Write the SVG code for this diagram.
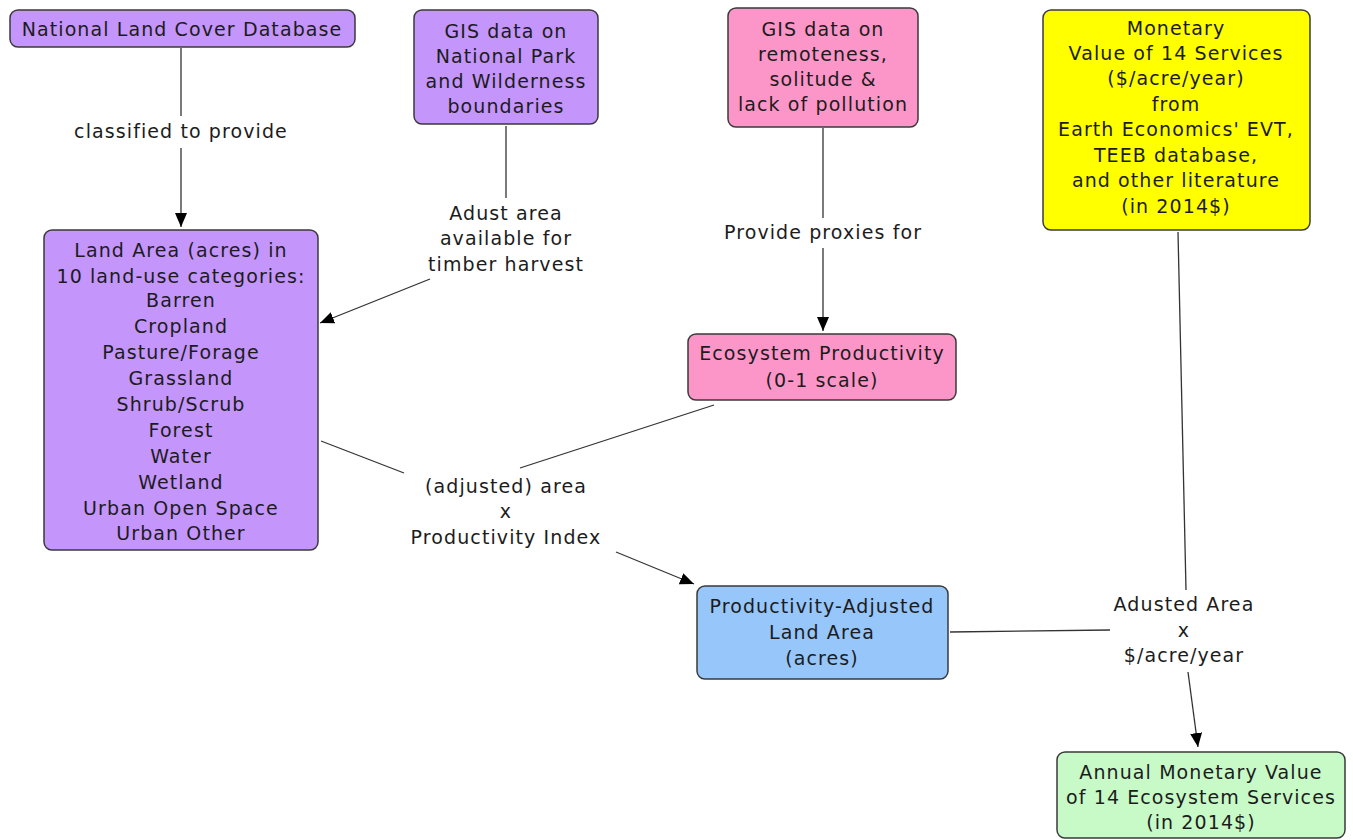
<svg xmlns="http://www.w3.org/2000/svg" width="1353" height="840" viewBox="0 0 1353 840">
<defs>
<style>
.box{stroke:#3a3a3a;stroke-width:1.5}
.purple{fill:#c495fa}
.pink{fill:#fd96c8}
.yellow{fill:#ffff00}
.blue{fill:#96c6fa}
.green{fill:#c8fac8}
text{font-family:"DejaVu Sans",Verdana,sans-serif;font-size:19px;letter-spacing:1.1px;fill:#1c1c1c;text-anchor:middle}
.ln{stroke:#333;stroke-width:1.3;fill:none}
</style>
<marker id="arr" viewBox="0 0 14 12" refX="14" refY="6" markerWidth="14" markerHeight="12" markerUnits="userSpaceOnUse" orient="auto">
<path d="M0,0 L14,6 L0,12 Z" fill="#000"/>
</marker>
</defs>
<rect width="1353" height="840" fill="#fff"/>
<g id="connectors">
<line class="ln" x1="181" y1="48" x2="181" y2="116"/>
<line class="ln" x1="181" y1="148" x2="181" y2="227" marker-end="url(#arr)"/>
<line class="ln" x1="506" y1="126" x2="506" y2="198"/>
<line class="ln" x1="430" y1="279" x2="320" y2="323" marker-end="url(#arr)"/>
<line class="ln" x1="823" y1="128" x2="823" y2="218"/>
<line class="ln" x1="823" y1="248" x2="823" y2="331" marker-end="url(#arr)"/>
<line class="ln" x1="714" y1="405" x2="520" y2="468"/>
<line class="ln" x1="321" y1="441" x2="404" y2="473"/>
<line class="ln" x1="616" y1="552" x2="694" y2="584" marker-end="url(#arr)"/>
<line class="ln" x1="1178" y1="232" x2="1186" y2="590"/>
<line class="ln" x1="950" y1="632" x2="1110" y2="630"/>
<line class="ln" x1="1188" y1="672" x2="1198" y2="747" marker-end="url(#arr)"/>
<text x="181" y="138">classified to provide</text>
<text x="506" y="220">Adust area</text>
<text x="506" y="245">available for</text>
<text x="506" y="271">timber harvest</text>
<text x="823" y="239">Provide proxies for</text>
<text x="506" y="493">(adjusted) area</text>
<text x="506" y="518">x</text>
<text x="506" y="544">Productivity Index</text>
<text x="1184" y="611">Adusted Area</text>
<text x="1184" y="637">x</text>
<text x="1184" y="662">$/acre/year</text>
</g>
<g id="nlcd">
<rect class="box purple" x="10" y="10" width="345" height="37" rx="8"/>
<text x="182" y="36">National Land Cover Database</text>
</g>
<g id="gis-park">
<rect class="box purple" x="414" y="10" width="184" height="114" rx="8"/>
<text x="506" y="38">GIS data on</text>
<text x="506" y="63">National Park</text>
<text x="506" y="88">and Wilderness</text>
<text x="506" y="113">boundaries</text>
</g>
<g id="gis-remote">
<rect class="box pink" x="728" y="8" width="190" height="119" rx="8"/>
<text x="823" y="36">GIS data on</text>
<text x="823" y="61">remoteness,</text>
<text x="823" y="86">solitude &amp;</text>
<text x="823" y="111">lack of pollution</text>
</g>
<g id="monetary">
<rect class="box yellow" x="1043" y="10" width="267" height="220" rx="8"/>
<text x="1176" y="35">Monetary</text>
<text x="1176" y="60">Value of 14 Services</text>
<text x="1176" y="85">($/acre/year)</text>
<text x="1176" y="111">from</text>
<text x="1176" y="136">Earth Economics' EVT,</text>
<text x="1176" y="162">TEEB database,</text>
<text x="1176" y="187">and other literature</text>
<text x="1176" y="213">(in 2014$)</text>
</g>
<g id="land-area">
<rect class="box purple" x="44" y="230" width="274" height="320" rx="8"/>
<text x="181" y="257">Land Area (acres) in</text>
<text x="181" y="283">10 land-use categories:</text>
<text x="181" y="307">Barren</text>
<text x="181" y="333">Cropland</text>
<text x="181" y="359">Pasture/Forage</text>
<text x="181" y="385">Grassland</text>
<text x="181" y="411">Shrub/Scrub</text>
<text x="181" y="437">Forest</text>
<text x="181" y="463">Water</text>
<text x="181" y="489">Wetland</text>
<text x="181" y="515">Urban Open Space</text>
<text x="181" y="540">Urban Other</text>
</g>
<g id="eco-prod">
<rect class="box pink" x="688" y="334" width="268" height="66" rx="8"/>
<text x="822" y="360">Ecosystem Productivity</text>
<text x="822" y="387">(0-1 scale)</text>
</g>
<g id="prod-adj">
<rect class="box blue" x="697" y="586" width="251" height="93" rx="8"/>
<text x="822" y="613">Productivity-Adjusted</text>
<text x="822" y="639">Land Area</text>
<text x="822" y="665">(acres)</text>
</g>
<g id="annual">
<rect class="box green" x="1057" y="752" width="288" height="86" rx="8"/>
<text x="1201" y="779">Annual Monetary Value</text>
<text x="1201" y="804">of 14 Ecosystem Services</text>
<text x="1201" y="829">(in 2014$)</text>
</g>
</svg>
